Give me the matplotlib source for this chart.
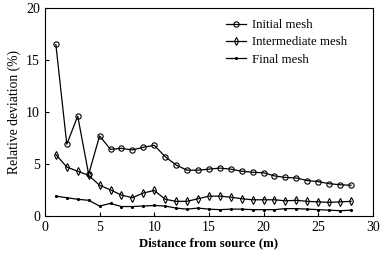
import matplotlib
matplotlib.use("Agg")
import matplotlib.pyplot as plt

x = list(range(1, 29))
initial = [16.5, 6.9, 9.6, 4.0, 7.7, 6.4, 6.5, 6.35, 6.6, 6.8, 5.7, 4.9, 4.4, 4.4,
           4.5, 4.6, 4.5, 4.3, 4.2, 4.15, 3.85, 3.7, 3.65, 3.4, 3.3, 3.1, 3.0, 2.95]
intermediate = [5.9, 4.7, 4.3, 3.9, 2.95, 2.5, 2.0, 1.75, 2.2, 2.45, 1.6, 1.4, 1.4, 1.65,
                1.9, 1.9, 1.8, 1.65, 1.55, 1.55, 1.55, 1.45, 1.5, 1.4, 1.35, 1.3, 1.35, 1.4]
final = [1.9, 1.75, 1.6, 1.5, 0.95, 1.2, 0.9, 0.9, 0.95, 1.0, 0.95, 0.75, 0.65, 0.75,
         0.65, 0.6, 0.65, 0.65, 0.6, 0.6, 0.6, 0.7, 0.7, 0.65, 0.6, 0.55, 0.5, 0.55]
labels = ["Initial mesh", "Intermediate mesh", "Final mesh"]
xticks = [0, 5, 10, 15, 20, 25, 30]
yticks = [0, 5, 10, 15, 20]

plt.rcParams['font.family'] = ['Liberation Serif', 'DejaVu Serif']
fig = plt.figure(figsize=(3.84, 2.62), dpi=100)
ax = fig.add_axes([0.117, 0.176, 0.854, 0.793])

ax.plot(x, initial, color='black', lw=0.9, marker='o', ms=3.8, mfc='none', mew=0.8, label=labels[0])
ax.plot(x, intermediate, color='black', lw=0.9, marker='d', ms=4.0, mfc='none', mew=0.8, label=labels[1])
ax.plot(x, final, color='black', lw=0.9, marker='.', ms=2.5, label=labels[2])

ax.set_xlim(0, 30)
ax.set_ylim(0, 20)
ax.set_xticks(xticks)
ax.set_yticks(yticks)
ax.tick_params(direction='in', length=3, labelsize=10, top=False, right=False, width=0.8)
for s in ax.spines.values():
    s.set_linewidth(0.8)
ax.set_xlabel("Distance from source (m)", fontsize=9.3, fontweight='bold', labelpad=2.5)
ax.set_ylabel("Relative deviation (%)", fontsize=9.8, labelpad=4)
ax.legend(loc='upper right', frameon=False, fontsize=9.3, handlelength=1.6, labelspacing=0.42,
          handletextpad=0.4, bbox_to_anchor=(0.944, 0.985), borderaxespad=0.2)

fig.savefig("out.png", dpi=100)
